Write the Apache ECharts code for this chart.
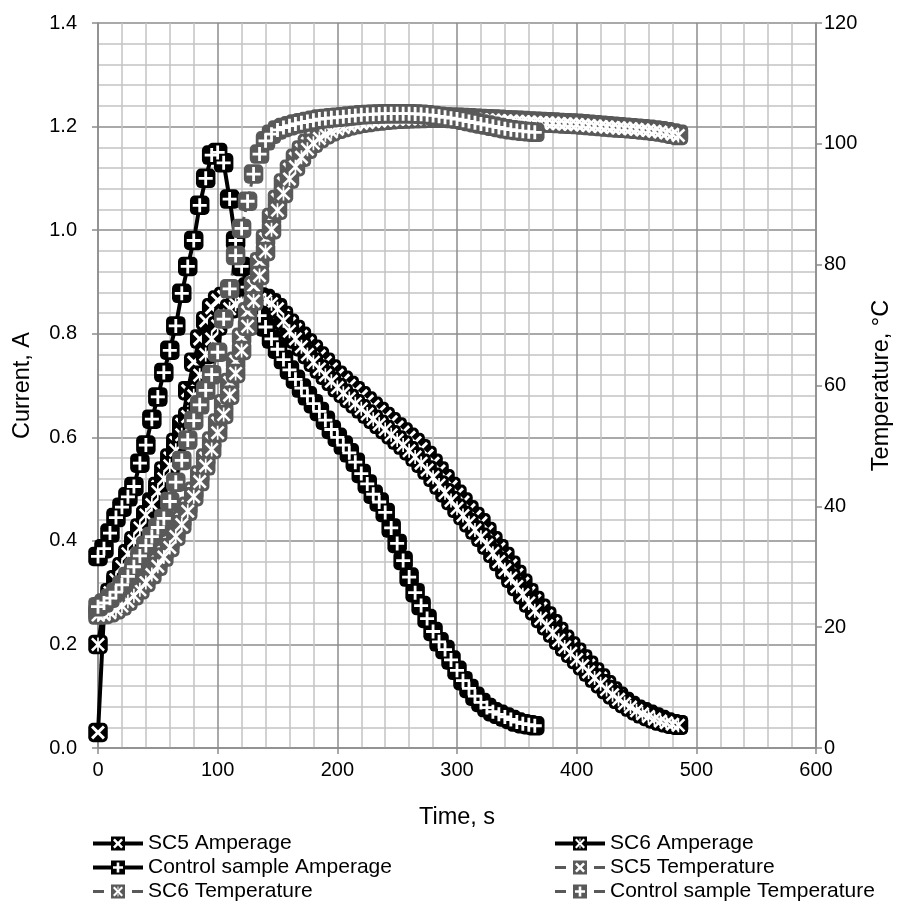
<!DOCTYPE html>
<html><head><meta charset="utf-8">
<script src="https://cdn.jsdelivr.net/npm/echarts@6/dist/echarts.min.js"></script>
<style>html,body{margin:0;padding:0;background:#fff}#c{width:910px;height:909px}</style>
</head><body><div id="c"></div><script>
// ---------------- data ----------------
const timeSec = [0,5,10,15,20,25,30,35,40,45,50,55,60,65,70,75,80,85,90,95,100,105,110,115,120,125,130,135,140,145,150,155,160,165,170,175,180,185,190,195,200,205,210,215,220,225,230,235,240,245,250,255,260,265,270,275,280,285,290,295,300,305,310,315,320,325,330,335,340,345,350,355,360,365,370,375,380,385,390,395,400,405,410,415,420,425,430,435,440,445,450,455,460,465,470,475,480,485];

const sc5Amp = [0.03,0.26,0.29,0.32,0.345,0.37,0.395,0.42,0.45,0.475,
0.505,0.535,0.56,0.59,0.625,0.69,0.745,0.79,0.825,0.85,
0.865,0.872,0.875,0.876,0.876,0.875,0.873,0.871,0.868,0.86,
0.85,0.835,0.82,0.808,0.795,0.782,0.77,0.757,0.745,0.732,
0.72,0.71,0.7,0.69,0.68,0.67,0.66,0.65,0.64,0.63,
0.62,0.61,0.6,0.59,0.578,0.565,0.55,0.535,0.52,0.505,
0.49,0.475,0.46,0.447,0.435,0.418,0.4,0.385,0.37,0.353,
0.335,0.318,0.3,0.285,0.27,0.255,0.24,0.225,0.21,0.197,
0.185,0.172,0.16,0.147,0.135,0.122,0.11,0.1,0.09,0.082,
0.075,0.07,0.065,0.06,0.055,0.05,0.047,0.045];

const sc6Amp = [0.2,0.27,0.3,0.325,0.35,0.375,0.4,0.425,0.45,0.47,
0.495,0.52,0.545,0.575,0.605,0.64,0.68,0.72,0.76,0.79,
0.815,0.835,0.848,0.857,0.862,0.865,0.866,0.866,0.864,0.858,
0.848,0.825,0.805,0.79,0.775,0.76,0.745,0.732,0.72,0.708,
0.696,0.685,0.675,0.665,0.655,0.645,0.635,0.625,0.615,0.605,
0.595,0.585,0.574,0.562,0.55,0.537,0.523,0.508,0.493,0.478,
0.463,0.449,0.435,0.421,0.407,0.392,0.376,0.36,0.344,0.328,
0.312,0.296,0.28,0.265,0.25,0.236,0.222,0.208,0.195,0.183,
0.171,0.159,0.147,0.135,0.124,0.113,0.103,0.094,0.086,0.079,
0.072,0.066,0.061,0.056,0.052,0.049,0.046,0.044];

const ctrlAmp = [0.37,0.385,0.415,0.445,0.465,0.485,0.505,0.55,0.585,0.635,
0.678,0.725,0.768,0.815,0.878,0.93,0.98,1.048,1.1,1.145,
1.15,1.13,1.06,0.98,0.93,0.89,0.86,0.835,0.813,0.79,
0.77,0.75,0.73,0.712,0.695,0.68,0.665,0.65,0.633,0.615,
0.6,0.585,0.57,0.552,0.53,0.51,0.49,0.475,0.455,0.425,
0.395,0.362,0.33,0.3,0.275,0.25,0.225,0.205,0.19,0.17,
0.15,0.13,0.115,0.1,0.088,0.078,0.07,0.065,0.06,0.055,
0.05,0.047,0.045,0.043];

const sc5Temp = [22.5,22.6,22.9,23.4,24,24.8,25.7,26.8,28,29.4,
30.8,32.4,34,35.8,37.8,40,42.5,45.2,48,50.8,
53.8,57,60.5,64,68,72.2,76.5,80.5,84.3,87.8,
90.8,93.5,95.8,97.6,99,100.1,101,101.7,102.2,102.6,
102.9,103.2,103.4,103.6,103.75,103.9,104,104.1,104.2,104.25,
104.3,104.35,104.4,104.4,104.45,104.45,104.45,104.45,104.45,104.4,
104.4,104.35,104.3,104.25,104.2,104.15,104.1,104.05,104,103.95,
103.9,103.85,103.8,103.75,103.7,103.65,103.6,103.55,103.5,103.45,
103.4,103.32,103.24,103.16,103.08,103,102.92,102.84,102.76,102.68,
102.6,102.5,102.4,102.3,102.15,102,101.8,101.6];

const sc6Temp = [22,22.1,22.4,22.9,23.5,24.3,25.2,26.2,27.4,28.7,
30.1,31.6,33.2,35,37,39.2,41.6,44.1,46.7,49.4,
52.2,55.2,58.4,62,65.8,69.8,74,78.2,82.2,85.8,
89,91.8,94.2,96.2,97.8,99.1,100.1,100.9,101.5,102,
102.4,102.7,103,103.2,103.4,103.55,103.7,103.8,103.9,104,
104.05,104.1,104.15,104.2,104.2,104.25,104.25,104.25,104.25,104.2,
104.2,104.15,104.1,104.05,104,103.95,103.9,103.85,103.8,103.75,
103.7,103.65,103.6,103.55,103.5,103.45,103.4,103.35,103.3,103.25,
103.2,103.12,103.04,102.96,102.88,102.8,102.72,102.64,102.56,102.48,
102.4,102.3,102.2,102.1,101.95,101.8,101.6,101.4];

const ctrlTemp = [23.4,24,24.8,25.8,27,28.4,30,31.8,33.5,35,
36.5,38,40.8,44,47.6,51,54.2,56.8,59.2,61.8,
65.5,71,76,81.5,86,90.5,95,98.3,100.5,101.6,
102.3,102.7,103,103.3,103.5,103.7,103.9,104.1,104.2,104.3,
104.4,104.5,104.6,104.7,104.8,104.85,104.9,104.95,105,105,
105,105,105,104.95,104.9,104.8,104.7,104.55,104.4,104.25,
104.1,103.9,103.7,103.5,103.3,103.1,102.9,102.7,102.5,102.35,
102.2,102.1,102,101.9];

const xTicks = [0,100,200,300,400,500,600];
const seriesNames = ['SC5 Amperage','SC6 Amperage','Control sample Amperage','SC5 Temperature','SC6 Temperature','Control sample Temperature'];
// ------------------------------------------------------------------

const FONT = '"Liberation Sans", Arial, sans-serif';
const BLACK = '#000000', GRAY = '#595959';
const X_PATH = 'path://M3 0L10 7L17 0L20 3L13 10L20 17L17 20L10 13L3 20L0 17L7 10L0 3Z';
const PLUS_PATH = 'path://M8 0H12V8H20V12H12V20H8V12H0V8H8Z';
const STAR_PATH = 'path://M2.6 0L10 7.4L17.4 0L20 2.6L12.6 10L20 17.4L17.4 20L10 12.6L2.6 20L0 17.4L7.4 10L0 2.6Z M8.8 0H11.2V20H8.8Z';

const HOLE_X = 'M21.8 2L20 3.8L23.2 7L20 10.2L21.8 12L25 8.8L28.2 12L30 10.2L26.8 7L30 3.8L28.2 2L25 5.2Z';
const HOLE_PLUS = 'M23.7 2L23.7 5.7L20 5.7L20 8.3L23.7 8.3L23.7 12L26.3 12L26.3 8.3L30 8.3L30 5.7L26.3 5.7L26.3 2Z';
const HOLE_STAR = 'M21.5 2L20 3.5L23.5 7L20 10.5L21.5 12L25 8.5L28.5 12L30 10.5L26.5 7L30 3.5L28.5 2L25 5.5Z M24.5 2V4.5H25.5V2Z M24.5 9.5V12H25.5V9.5Z';
const SQUARE = 'M18 0H32V14H18Z';
const SOLID_LINE = 'M0 5H18V9H0Z M32 5H50V9H32Z ';
const DASH_LINE = 'M0 5.5H11V8.5H0Z M39 5.5H50V8.5H39Z ';
const icon = (line, hole) => 'path://' + line + SQUARE + ' ' + hole;

function pairs(vals) { return vals.map((v, i) => [timeSec[i], v]); }

const defs = [
  {name: seriesNames[0], vals: sc5Amp, axis: 0, color: BLACK, dash: false, mark: X_PATH, icon: icon(SOLID_LINE, HOLE_X)},
  {name: seriesNames[1], vals: sc6Amp, axis: 0, color: BLACK, dash: false, mark: STAR_PATH, icon: icon(SOLID_LINE, HOLE_STAR)},
  {name: seriesNames[2], vals: ctrlAmp, axis: 0, color: BLACK, dash: false, mark: PLUS_PATH, icon: icon(SOLID_LINE, HOLE_PLUS)},
  {name: seriesNames[3], vals: sc5Temp, axis: 1, color: GRAY, dash: true, mark: X_PATH, icon: icon(DASH_LINE, HOLE_X)},
  {name: seriesNames[4], vals: sc6Temp, axis: 1, color: GRAY, dash: true, mark: STAR_PATH, icon: icon(DASH_LINE, HOLE_STAR)},
  {name: seriesNames[5], vals: ctrlTemp, axis: 1, color: GRAY, dash: true, mark: PLUS_PATH, icon: icon(DASH_LINE, HOLE_PLUS)}
];

const series = [];
defs.forEach(d => {
  const data = pairs(d.vals);
  series.push({
    name: d.name, type: 'line', yAxisIndex: d.axis, data: data, z: 3, zlevel: 0,
    symbol: 'roundRect', symbolSize: 19.5, showAllSymbol: true,
    itemStyle: {color: d.color, borderWidth: 0},
    lineStyle: {color: d.color, width: d.dash ? 3 : 4, type: d.dash ? [8, 5] : 'solid'},
    emphasis: {disabled: true}, silent: true
  });
  series.push({
    name: d.name + ' mark', type: 'scatter', yAxisIndex: d.axis, data: data, z: 3, zlevel: 0,
    symbol: d.mark, symbolSize: 14,
    itemStyle: {color: '#ffffff', borderWidth: 0, opacity: 1},
    emphasis: {disabled: true}, silent: true
  });
});

const axisGray = '#8c8c8c';
const txt = {fontFamily: FONT, fontSize: 20, color: '#000'};
const nameTxt = Object.assign({}, txt, {fontSize: 23.5});
const legendBase = {
  orient: 'vertical', itemWidth: 50, itemHeight: 14, itemGap: 3, padding: 0, height: 120,
  textStyle: Object.assign({}, txt, {fontSize: 21, lineHeight: 21}),
  itemStyle: {borderWidth: 0}, selectedMode: false
};

const option = {
  animation: false,
  backgroundColor: '#ffffff',
  grid: {left: 98, right: 94, top: 23, bottom: 161},
  xAxis: {
    type: 'value', min: 0, max: 600, interval: 100,
    axisLine: {show: true, onZero: false, lineStyle: {color: axisGray, width: 1.5}},
    axisTick: {show: true, length: 6, lineStyle: {color: axisGray, width: 1.5}},
    minorTick: {show: false, splitNumber: 5},
    splitLine: {show: true, lineStyle: {color: axisGray, width: 1.5}},
    minorSplitLine: {show: true, lineStyle: {color: '#c3c3c3', width: 1.5}},
    axisLabel: Object.assign({}, txt, {margin: 12, formatter: v => xTicks.indexOf(v) >= 0 ? String(v) : ''}),
    name: 'Time, s', nameLocation: 'middle', nameGap: 58,
    nameTextStyle: nameTxt
  },
  yAxis: [
    {
      type: 'value', min: 0, max: 1.4, interval: 0.2, position: 'left',
      axisLine: {show: true, lineStyle: {color: axisGray, width: 1.5}},
      axisTick: {show: true, length: 6, lineStyle: {color: axisGray, width: 1.5}},
      minorTick: {show: false, splitNumber: 5},
      splitLine: {show: true, lineStyle: {color: axisGray, width: 1.5}},
      minorSplitLine: {show: true, lineStyle: {color: '#c3c3c3', width: 1.5}},
      axisLabel: Object.assign({}, txt, {margin: 21, formatter: v => v.toFixed(1)}),
      name: 'Current, A', nameLocation: 'middle', nameGap: 63, nameRotate: 90,
      nameTextStyle: nameTxt
    },
    {
      type: 'value', min: 0, max: 120, interval: 20, position: 'right',
      axisLine: {show: true, lineStyle: {color: axisGray, width: 1.5}},
      axisTick: {show: true, length: 6, lineStyle: {color: axisGray, width: 1.5}},
      splitLine: {show: false},
      axisLabel: Object.assign({}, txt, {margin: 8}),
      name: 'Temperature, °C', nameLocation: 'middle', nameGap: 54, nameRotate: 90,
      nameTextStyle: nameTxt
    }
  ],
  legend: [
    Object.assign({}, legendBase, {left: 93, top: 833,
      data: [0, 2, 4].map(i => ({name: defs[i].name, icon: defs[i].icon}))}),
    Object.assign({}, legendBase, {left: 555, top: 833,
      data: [1, 3, 5].map(i => ({name: defs[i].name, icon: defs[i].icon}))})
  ],
  series: series
};

const chart = echarts.init(document.getElementById('c'), null, {renderer: 'canvas'});
chart.setOption(option);
</script></body></html>
